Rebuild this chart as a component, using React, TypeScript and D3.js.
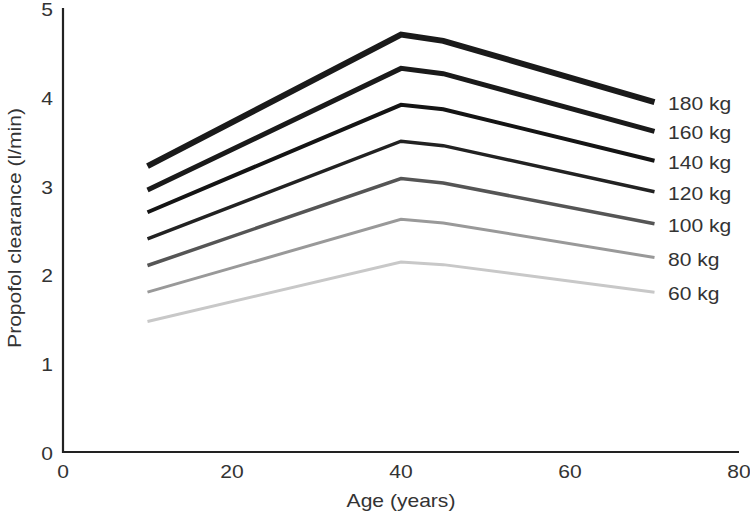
import React, { useEffect, useRef } from 'react';
import * as d3 from 'd3';

const ages = [10, 40, 45, 70];
const weights = ['180 kg', '160 kg', '140 kg', '120 kg', '100 kg', '80 kg', '60 kg'];
const clearance180 = [3.22, 4.70, 4.63, 3.94];
const clearance160 = [2.95, 4.32, 4.26, 3.61];
const clearance140 = [2.70, 3.91, 3.86, 3.28];
const clearance120 = [2.40, 3.50, 3.45, 2.93];
const clearance100 = [2.10, 3.08, 3.03, 2.57];
const clearance80 = [1.80, 2.62, 2.58, 2.19];
const clearance60 = [1.47, 2.14, 2.11, 1.80];
const xTicks = [0, 20, 40, 60, 80];
const yTicks = [0, 1, 2, 3, 4, 5];

const seriesValues = [clearance180, clearance160, clearance140, clearance120, clearance100, clearance80, clearance60];
const colors = ['#1a1a1a', '#1a1a1a', '#141414', '#222222', '#555555', '#999999', '#c8c8c8'];
const widths = [6, 5, 4, 3.5, 3.5, 3, 3];

const App = () => {
    const ref = useRef(null);

    useEffect(() => {
        const svg = d3.select(ref.current);
        svg.selectAll('*').remove();

        const x = d3.scaleLinear().domain([0, 80]).range([63, 739]);
        const y = d3.scaleLinear().domain([0, 5]).range([452, 8]);
        const font = 'Liberation Sans, Arial, sans-serif';
        const stretch = 'scale(1.17,1)'; // the original lettering is a bit wide

        // axes (no tick marks, just lines)
        svg.append('path')
            .attr('d', `M${x(0)},${y(5)}V${y(0)}H${x(80)}`)
            .attr('fill', 'none')
            .attr('stroke', '#222')
            .attr('stroke-width', 2.2);

        const label = (tx, ty, txt, anchor = 'start', extra = '') =>
            svg.append('text')
                .attr('transform', `translate(${tx},${ty}) ${extra} ${stretch}`)
                .attr('text-anchor', anchor)
                .attr('font-family', font)
                .attr('font-size', 18)
                .attr('fill', '#333')
                .text(txt);

        xTicks.forEach(d => label(x(d), y(0) + 26, d, 'middle'));
        yTicks.forEach(d => label(x(0) - 10, y(d) + 8, d, 'end'));

        const line = d3.line<number>()
            .x((d, i) => x(ages[i]))
            .y(d => y(d));

        seriesValues.forEach((vals, i) => {
            svg.append('path')
                .datum(vals)
                .attr('fill', 'none')
                .attr('stroke', colors[i])
                .attr('stroke-width', widths[i])
                .attr('d', line);

            label(668, y(vals[vals.length - 1]) + 8, weights[i]);
        });

        label(x(40), 507, 'Age (years)', 'middle');
        label(21, 228, 'Propofol clearance (l/min)', 'middle', 'rotate(-90)');
    }, []);

    return (
        <svg
            ref={ref}
            width={750}
            height={518}
            style={{ position: 'absolute', left: 0, top: 0, background: '#fff' }}
        />
    );
};

export default App;
